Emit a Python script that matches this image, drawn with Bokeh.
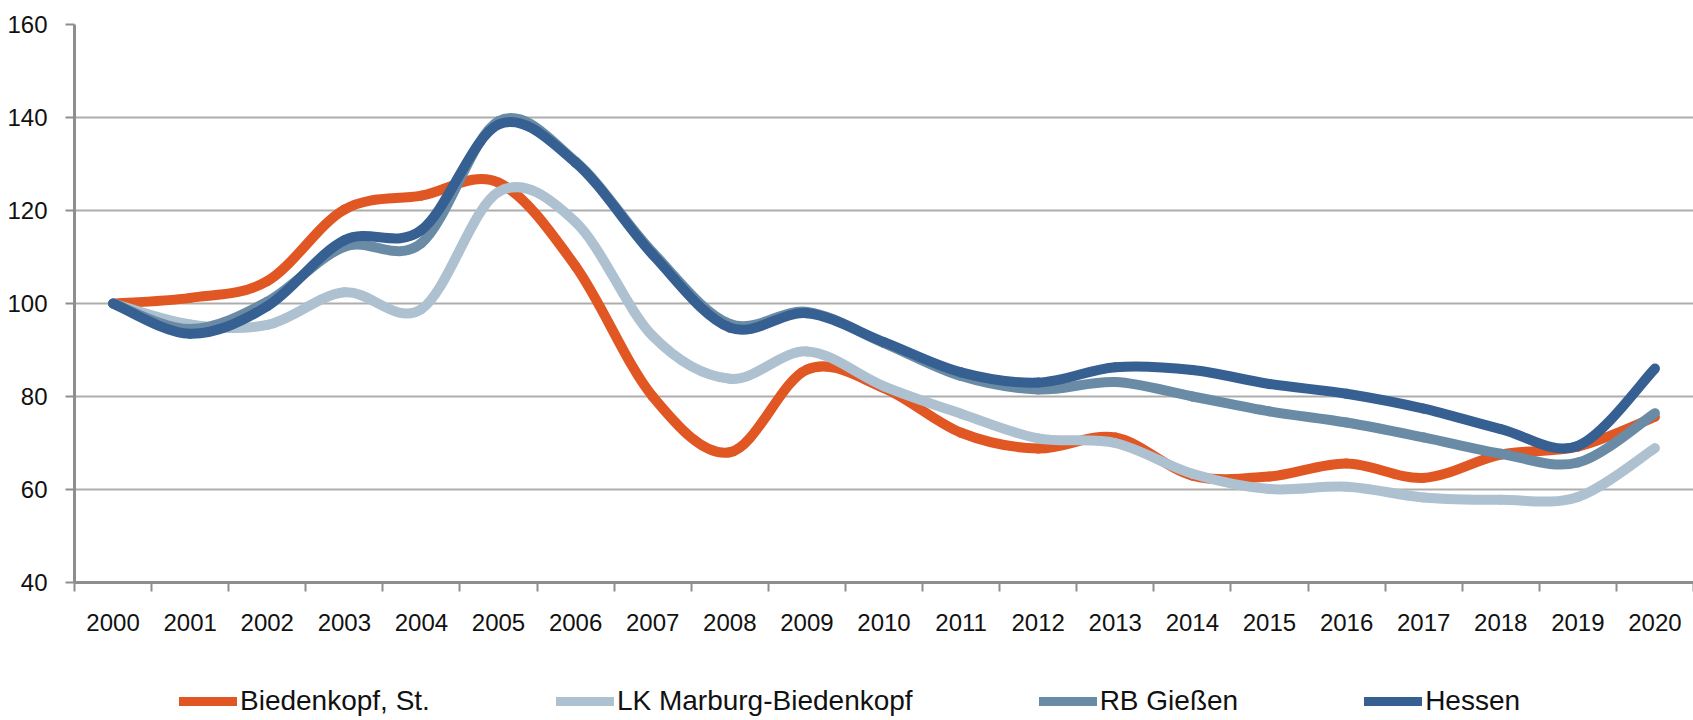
from bokeh.plotting import figure
from bokeh.layouts import column
from bokeh.models import Range1d, FixedTicker, Legend, LegendItem, ColumnDataSource
from bokeh.embed import file_html
from bokeh.resources import INLINE

years = list(range(2000, 2021))
biedenkopf = [100, 101.2, 104.8, 120.2, 123.2, 126.0, 108.0, 80.0, 68.0, 85.8, 81.8,
              72.2, 68.8, 71.2, 63.0, 62.8, 65.6, 62.5, 67.5, 69.2, 75.6]
lk_marburg = [100, 95.5, 95.4, 102.4, 98.8, 124.0, 117.5, 93.0, 83.8, 89.7, 82.2,
              76.3, 71.0, 70.0, 63.4, 60.1, 60.6, 58.3, 57.8, 58.4, 68.9]
rb_giessen = [100, 94.5, 100.4, 112.2, 113.0, 139.2, 130.5, 111.0, 95.6, 98.2, 91.5,
              84.4, 81.5, 83.1, 80.0, 76.8, 74.4, 71.2, 67.7, 65.8, 76.4]
hessen = [100, 93.5, 99.4, 113.6, 115.8, 138.5, 130.3, 110.5, 94.8, 97.9, 91.7,
          85.2, 83.0, 86.3, 85.7, 82.7, 80.6, 77.4, 73.0, 69.4, 86.0]

series_names = ["Biedenkopf, St.", "LK Marburg-Biedenkopf", "RB Gießen", "Hessen"]
series_values = [biedenkopf, lk_marburg, rb_giessen, hessen]
series_colors = ["#E05723", "#ADC1D0", "#6A8BA5", "#365F92"]
y_ticks = [40, 60, 80, 100, 120, 140, 160]

FONT = "Liberation Sans"
TEXT_COLOR = "#111111"
AXIS_COLOR = "#8E8E8E"


def smooth_segments(xs, ys):
    """Bezier control points for a smoothed (Excel-like) line through the data."""
    n = len(xs)
    d = dict(x0=[], y0=[], x1=[], y1=[], cx0=[], cy0=[], cx1=[], cy1=[])
    for i in range(n - 1):
        xp, yp = (xs[i - 1], ys[i - 1]) if i > 0 else (xs[i], ys[i])
        xn, yn = (xs[i + 2], ys[i + 2]) if i + 2 < n else (xs[i + 1], ys[i + 1])
        d["x0"].append(xs[i]); d["y0"].append(ys[i])
        d["x1"].append(xs[i + 1]); d["y1"].append(ys[i + 1])
        d["cx0"].append(xs[i] + (xs[i + 1] - xp) / 6.0)
        d["cy0"].append(ys[i] + (ys[i + 1] - yp) / 6.0)
        d["cx1"].append(xs[i + 1] - (xn - xs[i]) / 6.0)
        d["cy1"].append(ys[i + 1] - (yn - ys[i]) / 6.0)
    return ColumnDataSource(d)


# ---------------- main chart ----------------
p = figure(width=1693, height=660,
           x_range=Range1d(1999.5, 2020.5), y_range=Range1d(40, 160),
           output_backend="svg", toolbar_location=None,
           min_border_left=74, min_border_right=0, min_border_top=24, min_border_bottom=78)
p.outline_line_color = None
p.background_fill_color = "white"
p.border_fill_color = "white"

p.xgrid.grid_line_color = None
p.ygrid.grid_line_color = "#ADADAD"
p.ygrid.grid_line_width = 2

p.yaxis.ticker = FixedTicker(ticks=y_ticks)
p.yaxis.axis_line_color = AXIS_COLOR
p.yaxis.axis_line_width = 3
p.yaxis.major_tick_line_color = AXIS_COLOR
p.yaxis.major_tick_line_width = 2
p.yaxis.major_tick_out = 9
p.yaxis.major_tick_in = 0
p.yaxis.minor_tick_line_color = None
p.yaxis.major_label_text_font = FONT
p.yaxis.major_label_text_font_size = "24px"
p.yaxis.major_label_text_color = TEXT_COLOR
p.yaxis.major_label_standoff = 18

p.xaxis.ticker = FixedTicker(ticks=years, minor_ticks=[y - 0.5 for y in years] + [years[-1] + 0.5])
p.xaxis.axis_line_color = AXIS_COLOR
p.xaxis.axis_line_width = 3
p.xaxis.major_tick_line_color = None
p.xaxis.major_tick_out = 0
p.xaxis.major_tick_in = 0
p.xaxis.minor_tick_line_color = AXIS_COLOR
p.xaxis.minor_tick_line_width = 2
p.xaxis.minor_tick_out = 9
p.xaxis.minor_tick_in = 0
p.xaxis.major_label_text_font = FONT
p.xaxis.major_label_text_font_size = "24px"
p.xaxis.major_label_text_color = TEXT_COLOR
p.xaxis.major_label_standoff = 22

for vals, col in zip(series_values, series_colors):
    src = smooth_segments(years, vals)
    p.bezier(x0="x0", y0="y0", x1="x1", y1="y1", cx0="cx0", cy0="cy0", cx1="cx1", cy1="cy1",
             source=src, line_color=col, line_width=10, line_cap="round")

# ---------------- legend strip ----------------
q = figure(width=1693, height=60, x_range=Range1d(0, 1), y_range=Range1d(0, 1),
           x_axis_type=None, y_axis_type=None,
           output_backend="svg", toolbar_location=None, min_border=0)
q.outline_line_color = None
q.xgrid.grid_line_color = None
q.ygrid.grid_line_color = None

items = []
for name, col in zip(series_names, series_colors):
    # legend-key renderer only: its one segment lies outside the strip's visible ranges
    r = q.line(x=[-2, -1], y=[-2, -2], line_color=col, line_width=9, line_cap="round")
    items.append(LegendItem(label=name, renderers=[r]))

legend = Legend(items=items, orientation="horizontal", location=(105, 3),
                padding=0, margin=0, spacing=126, label_standoff=3,
                glyph_width=58, glyph_height=32, label_height=32,
                label_text_font=FONT, label_text_font_size="28px",
                label_text_color=TEXT_COLOR,
                border_line_color=None, background_fill_alpha=0)
q.add_layout(legend, "center")

layout = column(p, q, spacing=0)
open("out.html", "w").write(file_html(layout, INLINE))
